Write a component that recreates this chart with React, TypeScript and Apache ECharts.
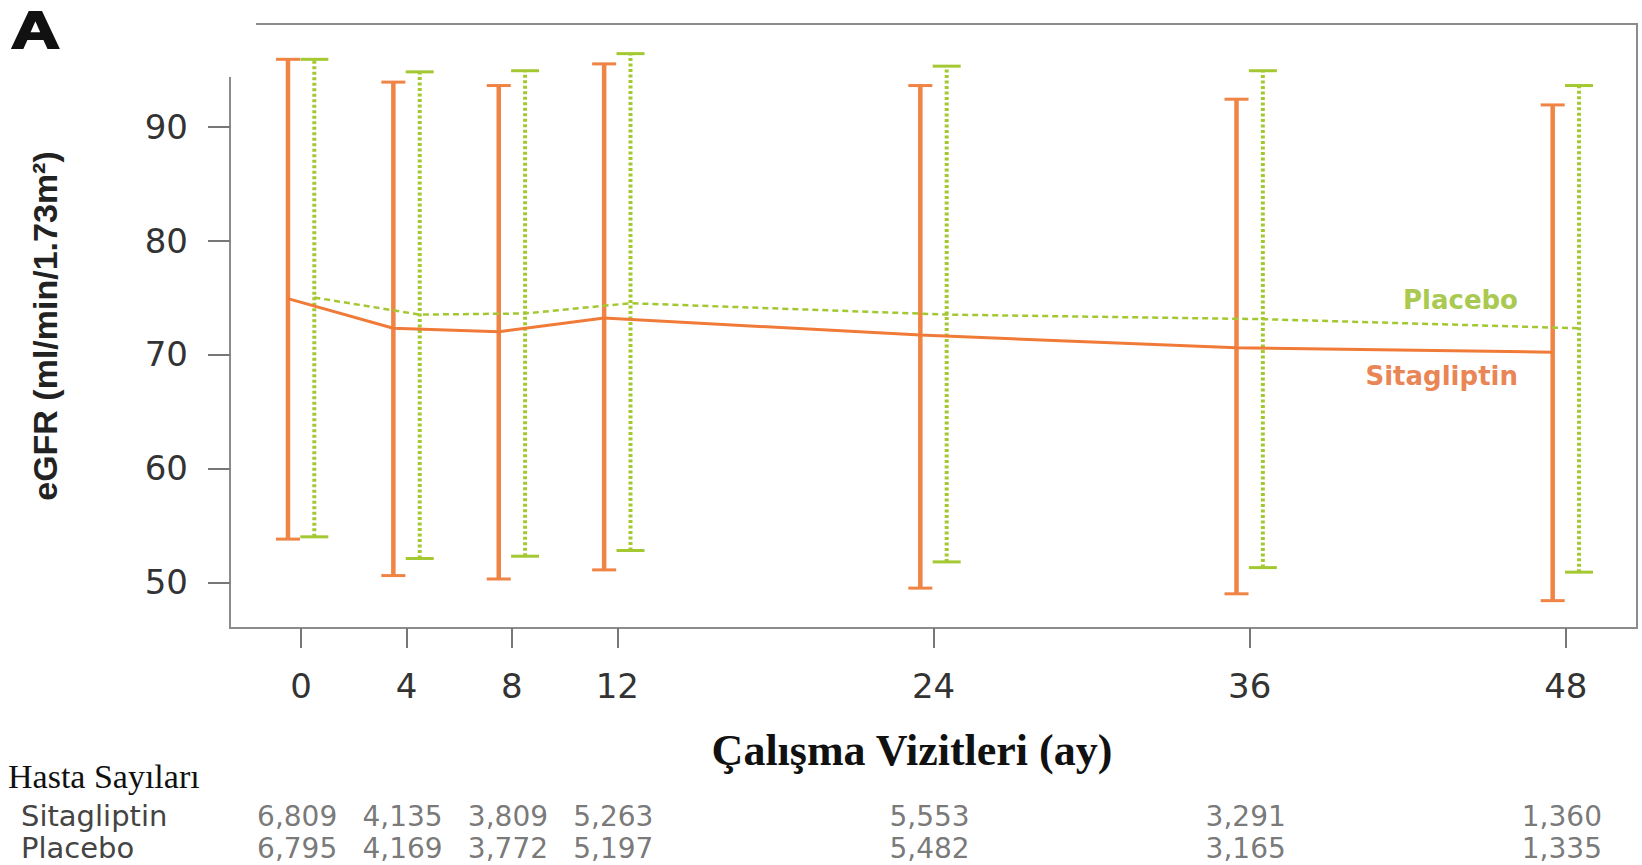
import React, { useEffect, useRef } from "react";
import * as echarts from "echarts";

const months = [0, 4, 8, 12, 24, 36, 48];
const xTicks = [0, 4, 8, 12, 24, 36, 48];
const yTicks = [50, 60, 70, 80, 90];

const sitaMean = [74.9, 72.3, 72.0, 73.2, 71.7, 70.6, 70.2];
const sitaHigh = [95.9, 93.9, 93.6, 95.5, 93.6, 92.4, 91.9];
const sitaLow = [53.8, 50.6, 50.3, 51.1, 49.5, 49.0, 48.4];

const placMean = [75.0, 73.5, 73.6, 74.5, 73.5, 73.1, 72.3];
const placHigh = [95.9, 94.8, 94.9, 96.4, 95.3, 94.9, 93.6];
const placLow = [54.0, 52.1, 52.3, 52.8, 51.8, 51.3, 50.9];

const sitaN = [6809, 4135, 3809, 5263, 5553, 3291, 1360];
const placN = [6795, 4169, 3772, 5197, 5482, 3165, 1335];
const tableRows = ["Placebo", "Sitagliptin"];

const ORANGE = "#EF8444";
const GREEN = "#A3C832";
const DODGE = 0.5;

function errorSeries(name: string, low: number[], high: number[], offset: number, color: string, dashed: boolean, capHalf: number) {
  return {
    type: "custom",
    name,
    xAxisIndex: 0,
    yAxisIndex: 0,
    silent: true,
    encode: { x: 0, y: [1, 2] },
    data: months.map((m, i) => [m + offset, low[i], high[i]]),
    renderItem: (params: any, api: any) => {
      const x = api.value(0);
      const pLo = api.coord([x, api.value(1)]);
      const pHi = api.coord([x, api.value(2)]);
      return {
        type: "group",
        children: [
          {
            type: "line",
            shape: { x1: pLo[0], y1: pLo[1], x2: pHi[0], y2: pHi[1] },
            style: { stroke: color, lineWidth: dashed ? 4 : 4.5, lineDash: dashed ? [3, 2.5] : null },
          },
          {
            type: "line",
            shape: { x1: pLo[0] - capHalf, y1: pLo[1], x2: pLo[0] + capHalf, y2: pLo[1] },
            style: { stroke: color, lineWidth: 3 },
          },
          {
            type: "line",
            shape: { x1: pHi[0] - capHalf, y1: pHi[1], x2: pHi[0] + capHalf, y2: pHi[1] },
            style: { stroke: color, lineWidth: 3 },
          },
        ],
      };
    },
  };
}

function countSeries(counts: number[], row: number) {
  return {
    type: "scatter",
    xAxisIndex: 1,
    yAxisIndex: 1,
    symbolSize: 1,
    silent: true,
    itemStyle: { color: "transparent" },
    label: {
      show: true,
      position: "inside",
      offset: [-4, 0],
      fontFamily: "DejaVu Sans",
      fontSize: 28,
      color: "#555",
      formatter: (p: any) => Number(p.value[2]).toLocaleString("en-US"),
    },
    data: months.map((m, i) => [m, row, counts[i]]),
  };
}

export default function App() {
  const ref = useRef<HTMLDivElement>(null);
  useEffect(() => {
    if (!ref.current) return;
    const chart = echarts.init(ref.current, null, { renderer: "svg" });
    const axisFont = { fontFamily: "DejaVu Sans", fontSize: 34, color: "#333" };
    const option: any = {
      animation: false,
      backgroundColor: "#fff",
      grid: [
        { left: 230, right: 5, top: 24, bottom: 237, show: true, borderColor: "#8c8c8c", borderWidth: 2, backgroundColor: "transparent" },
        { left: 230, right: 5, top: 800, height: 64, show: false },
      ],
      xAxis: [
        {
          type: "value",
          gridIndex: 0,
          min: -2.7,
          max: 50.7,
          axisLine: { show: false, onZero: false },
          splitLine: { show: false },
          axisTick: { show: true, length: 20, customValues: xTicks, lineStyle: { color: "#777", width: 2 } },
          axisLabel: { ...axisFont, margin: 41, customValues: xTicks },
        },
        { type: "value", gridIndex: 1, min: -2.7, max: 50.7, show: false },
      ],
      yAxis: [
        {
          type: "value",
          gridIndex: 0,
          min: 46,
          max: 99,
          axisLine: { show: false, onZero: false },
          splitLine: { show: false },
          axisTick: { show: true, length: 22, customValues: yTicks, lineStyle: { color: "#777", width: 2 } },
          axisLabel: { ...axisFont, margin: 42, customValues: yTicks },
          name: "eGFR (ml/min/1.73m²)",
          nameLocation: "middle",
          nameRotate: 90,
          nameGap: 168,
          nameTextStyle: { fontFamily: "Liberation Sans", fontWeight: "bold", fontSize: 34, color: "#222" },
        },
        {
          type: "category",
          gridIndex: 1,
          data: tableRows,
          axisLine: { show: false, onZero: false },
          axisTick: { show: false },
          splitLine: { show: false },
          axisLabel: { interval: 0, align: "left", margin: 209, fontFamily: "DejaVu Sans", fontSize: 29, color: "#444" },
        },
      ],
      series: [
        errorSeries("Sitagliptin SD", sitaLow, sitaHigh, -DODGE, ORANGE, false, 12),
        errorSeries("Placebo SD", placLow, placHigh, DODGE, GREEN, true, 14),
        {
          type: "line",
          name: "Sitagliptin",
          xAxisIndex: 0,
          yAxisIndex: 0,
          symbol: "none",
          silent: true,
          lineStyle: { color: "#F07A38", width: 3 },
          data: months.map((m, i) => [m - DODGE, sitaMean[i]]),
          z: 3,
        },
        {
          type: "line",
          name: "Placebo",
          xAxisIndex: 0,
          yAxisIndex: 0,
          symbol: "none",
          silent: true,
          lineStyle: { color: GREEN, width: 2.5, type: [6, 4] },
          data: months.map((m, i) => [m + DODGE, placMean[i]]),
          z: 3,
        },
        countSeries(sitaN, 1),
        countSeries(placN, 0),
      ],
      graphic: [
        { type: "rect", shape: { x: 0, y: 0, width: 256, height: 77 }, style: { fill: "#fff" }, z: 100 },
        {
          type: "text",
          x: 11,
          y: 30,
          scaleX: 1.3,
          z: 101,
          style: { text: "A", verticalAlign: "middle", fontFamily: "Liberation Sans", fontWeight: "bold", fontSize: 52, fill: "#111", stroke: "#111", lineWidth: 2 },
        },
        {
          type: "text",
          x: 1518,
          y: 300,
          z: 101,
          style: { text: "Placebo", align: "right", verticalAlign: "middle", fontFamily: "DejaVu Sans", fontWeight: "bold", fontSize: 26, fill: "#A9C950" },
        },
        {
          type: "text",
          x: 1518,
          y: 376,
          z: 101,
          style: { text: "Sitagliptin", align: "right", verticalAlign: "middle", fontFamily: "DejaVu Sans", fontWeight: "bold", fontSize: 26, fill: "#EA8656" },
        },
        {
          type: "text",
          x: 912,
          y: 750,
          z: 101,
          style: { text: "Çalışma Vizitleri (ay)", align: "center", verticalAlign: "middle", fontFamily: "Liberation Serif", fontWeight: "bold", fontSize: 44, fill: "#111" },
        },
        {
          type: "text",
          x: 8,
          y: 776,
          z: 101,
          style: { text: "Hasta Sayıları", align: "left", verticalAlign: "middle", fontFamily: "Liberation Serif", fontSize: 34, fill: "#111" },
        },
      ],
    };
    chart.setOption(option);
    return () => chart.dispose();
  }, []);
  return (
    <div
      ref={ref}
      style={{ position: "fixed", left: 0, top: 0, width: 1642, height: 865, background: "#fff" }}
    />
  );
}
